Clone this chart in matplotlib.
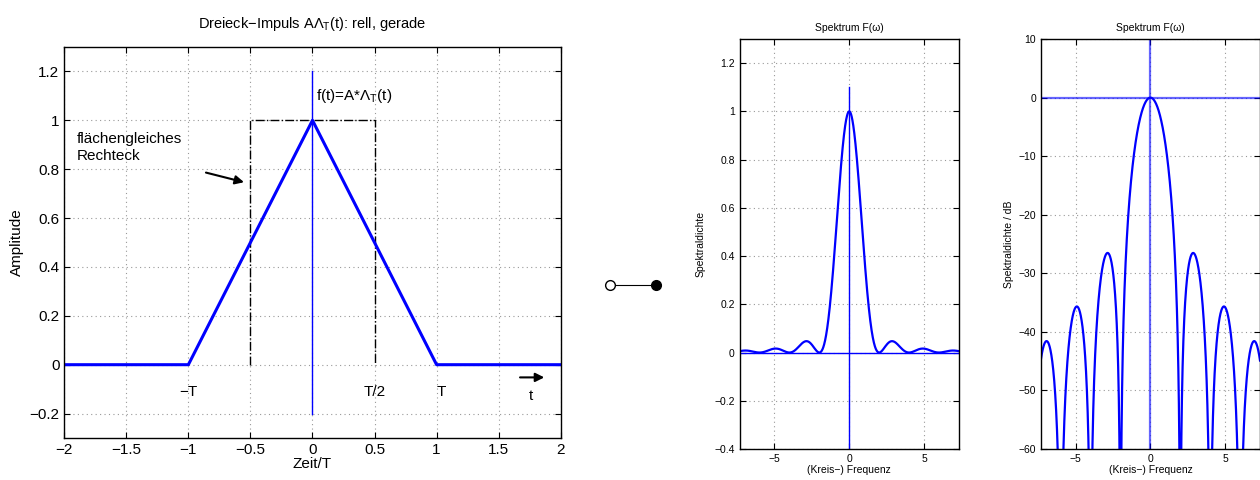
"""Dreieck-Impuls und sein Spektrum (linear und in dB)."""
import numpy as np
import matplotlib
matplotlib.use("Agg")
import matplotlib.pyplot as plt
from matplotlib.lines import Line2D

plt.rcParams["font.family"] = ["Liberation Sans", "DejaVu Sans"]
plt.rcParams["mathtext.default"] = "regular"
plt.rcParams["axes.unicode_minus"] = True

# Zeitbereich: Dreieck-Impuls (Stützstellen)
T_KNOTS = [-2, -1, 0, 1, 2]
F_KNOTS = [0, 0, 1, 0, 0]
# flächengleiches Rechteck
RECT_T = [-0.5, -0.5, 0.5, 0.5]
RECT_F = [0, 1, 1, 0]

# Spektrum: sinc^2 mit Nullstellen bei Vielfachen von ZERO_STEP
ZERO_STEP = 2.0
W_MAX = 7.33
W = np.linspace(-W_MAX, W_MAX, 2001)
F_W = np.sinc(W / ZERO_STEP) ** 2
F_DB = 20 * np.log10(np.maximum(F_W, 1e-12))

BLUE = "#0000ff"
GRID = dict(color="#999999", linestyle=(0, (1, 3)), linewidth=0.8)


def style(ax, fs):
    ax.tick_params(direction="in", top=True, right=True, labelsize=fs,
                   length=4, width=0.8)
    ax.grid(True, **GRID)
    for s in ax.spines.values():
        s.set_linewidth(1.0)


fig = plt.figure(figsize=(12.6, 4.8), dpi=100)

# ---- links: Zeitfunktion
ax = fig.add_axes([0.051, 0.0875, 0.394, 0.8145])
ax.plot(RECT_T, RECT_F, color="k", linestyle="-.", linewidth=1.0)
ax.plot([0, 0], [-0.2, 1.2], color=BLUE, linewidth=1.0)
ax.plot(T_KNOTS, F_KNOTS, color=BLUE, linewidth=2.2)
ax.set_xlim(-2, 2); ax.set_ylim(-0.3, 1.3)
ax.set_xticks(np.arange(-2, 2.01, 0.5))
ax.set_xticklabels(["\u22122", "\u22121.5", "\u22121", "\u22120.5", "0",
                    "0.5", "1", "1.5", "2"])
ax.set_yticks(np.arange(-0.2, 1.21, 0.2))
ax.set_yticklabels(["\u22120.2", "0", "0.2", "0.4", "0.6", "0.8", "1", "1.2"])
style(ax, 11)
ax.set_title("Dreieck\u2212Impuls A\u039b$_T$(t): rell, gerade", fontsize=10.5, pad=14)
ax.set_xlabel("Zeit/T", fontsize=11, labelpad=0)
ax.set_ylabel("Amplitude", fontsize=11, labelpad=4)
ax.text(0.03, 1.1, "f(t)=A*\u039b$_T$(t)", fontsize=11, va="center")
ax.text(-1.9, 0.89, "flächengleiches\nRechteck", fontsize=11, va="center",
        linespacing=1.3)
ax.annotate("", xy=(-0.53, 0.744), xytext=(-0.88, 0.789),
            arrowprops=dict(arrowstyle="-|>", color="k", lw=1.5,
                            mutation_scale=13))
ax.text(-1.0, -0.11, "\u2212T", fontsize=11, ha="center", va="center")
ax.text(0.5, -0.11, "T/2", fontsize=11, ha="center", va="center")
ax.text(1.04, -0.11, "T", fontsize=11, ha="center", va="center")
ax.annotate("", xy=(1.89, -0.052), xytext=(1.65, -0.052),
            arrowprops=dict(arrowstyle="-|>", color="k", lw=1.5,
                            mutation_scale=13))
ax.text(1.76, -0.13, "t", fontsize=11, ha="center", va="center")

# ---- Korrespondenzsymbol
fig.add_artist(Line2D([0.484, 0.521], [0.406, 0.406], color="k", lw=0.8,
                      transform=fig.transFigure))
fig.add_artist(Line2D([0.484], [0.406], marker="o", markersize=7,
                      markerfacecolor="white", markeredgecolor="k",
                      transform=fig.transFigure))
fig.add_artist(Line2D([0.521], [0.406], marker="o", markersize=7,
                      markerfacecolor="k", markeredgecolor="k",
                      transform=fig.transFigure))

# ---- Mitte: Spektrum linear
ax2 = fig.add_axes([0.587, 0.0646, 0.174, 0.854])
ax2.axhline(0, color=BLUE, linewidth=1.0)
ax2.plot([0, 0], [-0.4, 1.1], color=BLUE, linewidth=1.0)
ax2.plot(W, F_W, color=BLUE, linewidth=1.6)
ax2.set_xlim(-W_MAX, W_MAX); ax2.set_ylim(-0.4, 1.3)
ax2.set_xticks([-5, 0, 5]); ax2.set_xticklabels(["\u22125", "0", "5"])
ax2.set_yticks(np.arange(-0.4, 1.21, 0.2))
ax2.set_yticklabels(["\u22120.4", "\u22120.2", "0", "0.2", "0.4", "0.6",
                     "0.8", "1", "1.2"])
style(ax2, 7.5)
ax2.set_title("Spektrum F(\u03c9)", fontsize=7.5, pad=6)
ax2.set_xlabel("(Kreis\u2212) Frequenz", fontsize=7.5, labelpad=1)
ax2.set_ylabel("Spektraldichte", fontsize=7.5, labelpad=6)

# ---- rechts: Spektrum in dB
ax3 = fig.add_axes([0.826, 0.0646, 0.174, 0.854])
ax3.axhline(0, color=BLUE, linewidth=1.6, alpha=0.6)
ax3.axvline(0, color=BLUE, linewidth=1.6, alpha=0.6)
ax3.plot(W, F_DB, color=BLUE, linewidth=1.6)
ax3.set_xlim(-W_MAX, W_MAX); ax3.set_ylim(-60, 10)
ax3.set_xticks([-5, 0, 5]); ax3.set_xticklabels(["\u22125", "0", "5"])
ax3.set_yticks(np.arange(-60, 11, 10))
ax3.set_yticklabels(["\u221260", "\u221250", "\u221240", "\u221230", "\u221220",
                     "\u221210", "0", "10"])
style(ax3, 7.5)
ax3.set_title("Spektrum F(\u03c9)", fontsize=7.5, pad=6)
ax3.set_xlabel("(Kreis\u2212) Frequenz", fontsize=7.5, labelpad=1)
ax3.set_ylabel("Spektraldichte / dB", fontsize=7.5, labelpad=3)

fig.savefig("out.png", dpi=100)
